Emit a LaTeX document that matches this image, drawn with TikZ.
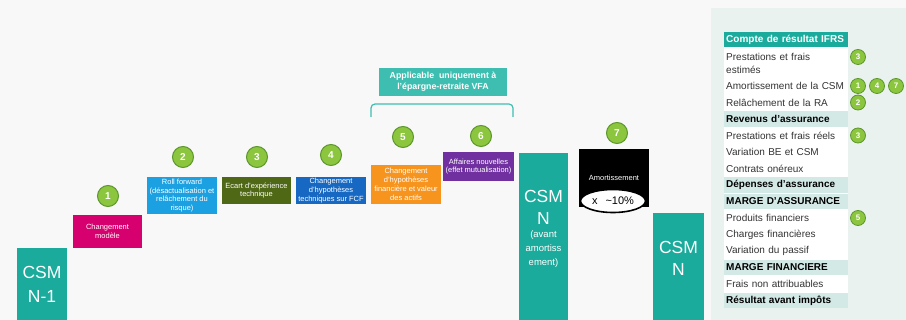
\documentclass[tikz,border=0pt]{standalone}
\usepackage{fontspec}
\setmainfont{Liberation Sans}
\usetikzlibrary{shapes.geometric}
\definecolor{csmteal}{RGB}{26,171,156}
\definecolor{vfateal}{RGB}{62,190,176}
\definecolor{rowteal}{RGB}{211,233,230}
\definecolor{panelbg}{RGB}{234,242,240}
\definecolor{pagebg}{RGB}{248,248,248}
\definecolor{magenta1}{RGB}{214,0,110}
\definecolor{skyblue1}{RGB}{27,161,226}
\definecolor{olive1}{RGB}{79,104,22}
\definecolor{blue1}{RGB}{22,104,194}
\definecolor{orange1}{RGB}{247,148,29}
\definecolor{purple1}{RGB}{112,48,160}
\definecolor{stepgreen}{RGB}{140,198,63}
\definecolor{stepring}{RGB}{92,150,44}
\definecolor{tabtext}{RGB}{51,51,51}

\begin{document}
\begin{tikzpicture}[x=1pt,y=-1pt]
    \def\tx{724}
    \def\dr{16.5}
    \def\ry{86}
    \def\cx{858}

    \useasboundingbox (0,0) rectangle (906,320);
    \fill[pagebg] (0,0) rectangle (906,320);
    \fill[panelbg] (711,8) rectangle (906,320);

    \tikzstyle{bar}=[fill=csmteal,inner sep=0pt]
    \tikzstyle{bigtext}=[text=white,align=center,inner sep=0pt,font=\fontsize{17.5}{22}\selectfont]
    \tikzstyle{smalltext}=[text=white,align=center,inner sep=0pt,font=\fontsize{9.5}{14}\selectfont]
    \tikzstyle{effect}=[text=white,align=center,inner sep=1pt,font=\fontsize{7.5}{8.8}\selectfont]
    \tikzstyle{num}=[circle,fill=stepgreen,draw=stepring,line width=1pt,text=white,inner sep=0pt,minimum size=21pt,font=\fontsize{10}{10}\selectfont\bfseries]
    \tikzstyle{smallnum}=[num,line width=0.8pt,minimum size=15pt,font=\fontsize{8}{8}\selectfont\bfseries]
    \tikzstyle{row}=[anchor=west,text width=120pt,inner xsep=2pt,inner ysep=0pt,minimum height=15.5pt,align=left,text=tabtext,font=\fontsize{10}{12}\selectfont]
    \tikzstyle{total}=[row,fill=rowteal,text=black,font=\fontsize{10}{12}\selectfont\bfseries]
    \tikzstyle{head}=[row,fill=csmteal,text=white,minimum height=15pt,font=\fontsize{10}{12}\selectfont\bfseries]
    \tikzstyle{brace}=[draw=vfateal,line width=1.2pt,rounded corners=4pt]

    % CSM bars
    \node[bar,minimum width=50pt,minimum height=72pt] (csm0) at (42,284) {};
    \node[bigtext,font=\fontsize{17.5}{24}\selectfont] (csm0t) at (42,284) {CSM\\N-1};

    \node[bar,minimum width=49pt,minimum height=167pt] (csm1) at (543.5,236.5) {};
    \node[bigtext] (csm1t) at (543.5,207.5) {CSM\\N};
    \node[smalltext] (csm1s) at (543.5,249) {(avant\\amortiss\\ement)};

    \node[bar,minimum width=51pt,minimum height=107pt] (csm2) at (678.5,266.5) {};
    \node[bigtext] (csm2t) at (678.5,258.5) {CSM\\N};

    % effects
    \node[effect,fill=magenta1,minimum width=69pt,minimum height=33pt] (e1) at (107.5,231.5) {Changement\\modèle};
    \node[effect,fill=skyblue1,minimum width=70pt,minimum height=37pt] (e2) at (182,195.5) {Roll forward\\(désactualisation et\\relâchement du\\risque)};
    \node[effect,fill=olive1,minimum width=69pt,minimum height=27pt] (e3) at (256.5,190.5) {Ecart d'expérience\\technique};
    \node[effect,fill=blue1,minimum width=70pt,minimum height=27pt] (e4) at (331,190.5) {Changement\\d'hypothèses\\techniques sur FCF};
    \node[effect,fill=orange1,minimum width=70pt,minimum height=39pt] (e5) at (406,184.5) {Changement\\d'hypothèses\\financière et valeur\\des actifs};
    \node[effect,fill=purple1,minimum width=71pt,minimum height=29pt] (e6) at (478.5,166.5) {Affaires nouvelles\\(effet mutualisation)};
    \node[effect,fill=black,minimum width=70pt,minimum height=58pt] (e7) at (614,178) {Amortissement};
    \node[ellipse,draw=black,line width=1.6pt,fill=white,minimum width=65pt,minimum height=23pt,inner sep=0pt,font=\fontsize{11}{11}\selectfont] (rate) at (613,201) {x\hspace{8pt}\textasciitilde10\%};

    \node[num] (n1) at (108,196) {1};
    \node[num] (n2) at (183,157) {2};
    \node[num] (n3) at (257,157) {3};
    \node[num] (n4) at (331,155) {4};
    \node[num] (n5) at (403,137) {5};
    \node[num] (n6) at (481,136) {6};
    \node[num] (n7) at (617,133) {7};

    % VFA scope
    \node[fill=vfateal,text=white,minimum width=128pt,minimum height=28pt,inner sep=0pt,align=center,font=\fontsize{8.8}{11}\selectfont\bfseries] (vfa) at (443,82) {Applicable\ \ uniquement à\\l'épargne-retraite VFA};
    \coordinate (bl) at (371,117);
    \coordinate (br) at (513,117);
    \draw[brace] (bl) -- ++(0,-13) -| (br);

    % compte de resultat
    \fill[white] (\tx,47) rectangle (\tx+124,308);
    \node[head] (h0) at (\tx,39.5) {Compte de résultat IFRS};
    \node[row,minimum height=30pt,font=\fontsize{10}{13}\selectfont] (r1) at (\tx,63.5) {Prestations et frais\\estimés};
    \node[row]   (r2)  at (\tx,\ry+0*\dr)  {Amortissement de la CSM};
    \node[row]   (r3)  at (\tx,\ry+1*\dr)  {Relâchement de la RA};
    \node[total] (r4)  at (\tx,\ry+2*\dr)  {Revenus d'assurance};
    \node[row]   (r5)  at (\tx,\ry+3*\dr)  {Prestations et frais réels};
    \node[row]   (r6)  at (\tx,\ry+4*\dr)  {Variation BE et CSM};
    \node[row]   (r7)  at (\tx,\ry+5*\dr)  {Contrats onéreux};
    \node[total] (r8)  at (\tx,\ry+6*\dr)  {Dépenses d'assurance};
    \node[total] (r9)  at (\tx,\ry+7*\dr)  {MARGE D'ASSURANCE};
    \node[row]   (r10) at (\tx,\ry+8*\dr)  {Produits financiers};
    \node[row]   (r11) at (\tx,\ry+9*\dr)  {Charges financières};
    \node[row]   (r12) at (\tx,\ry+10*\dr) {Variation du passif};
    \node[total] (r13) at (\tx,\ry+11*\dr) {MARGE FINANCIERE};
    \node[row]   (r14) at (\tx,\ry+12*\dr) {Frais non attribuables};
    \node[total] (r15) at (\tx,\ry+13*\dr) {Résultat avant impôts};

    \node[smallnum] (t3a) at (\cx,57) {3};
    \node[smallnum] (t1)  at (\cx,\ry+0*\dr) {1};
    \node[smallnum] (t4)  at (\cx+19,\ry+0*\dr) {4};
    \node[smallnum] (t7)  at (\cx+38,\ry+0*\dr) {7};
    \node[smallnum] (t2)  at (\cx,\ry+1*\dr) {2};
    \node[smallnum] (t3b) at (\cx,\ry+3*\dr) {3};
    \node[smallnum] (t5)  at (\cx,\ry+8*\dr) {5};

\end{tikzpicture}
\end{document}
